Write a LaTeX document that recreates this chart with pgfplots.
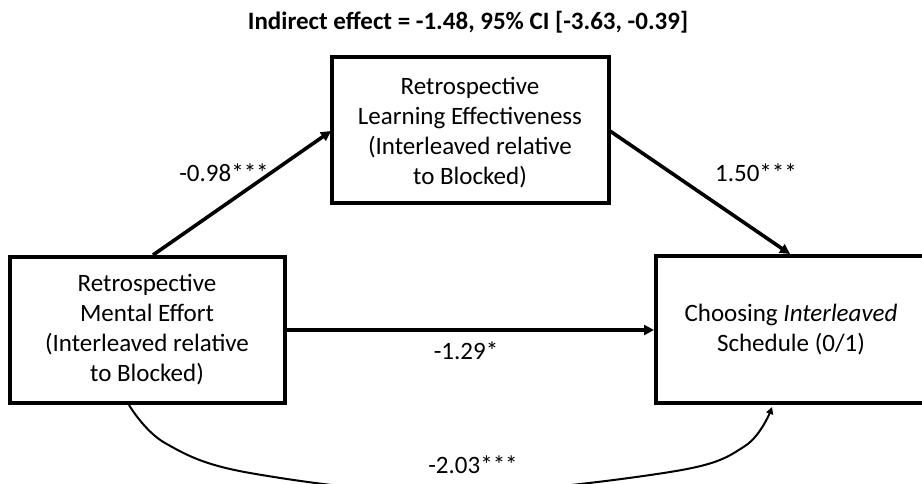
\documentclass[border=0pt]{standalone}
\usepackage{pgfplots}
\pgfplotsset{compat=1.18}
\usepackage{fontspec}
\setmainfont{Carlito}
\usetikzlibrary{arrows.meta}
\tikzset{txt/.style={font=\fontsize{25}{30}\selectfont, align=center, inner sep=0pt}}
\begin{document}
\begin{tikzpicture}
\begin{axis}[
  x=1pt, y=1pt, scale only axis,
  xmin=0, xmax=922, ymin=0, ymax=484,
  y dir=reverse, hide axis, clip=true,
]
% boxes
\addplot[black, line width=4pt, line join=miter, line cap=rect] coordinates {(332,57) (609,57) (609,203) (332,203) (332,57)};
\addplot[black, line width=4pt, line join=miter, line cap=rect] coordinates {(10,257) (285,257) (285,403) (10,403) (10,257)};
\addplot[black, line width=4pt, line join=miter] coordinates {(930,256) (656,256) (656,403) (930,403)};
% straight arrows
\addplot[black, line width=3.6pt, -{Triangle[length=10pt,width=10pt]}] coordinates {(153,255) (331,131)};
\addplot[black, line width=3.6pt, -{Triangle[length=10pt,width=10pt]}] coordinates {(610,131) (790,254)};
\addplot[black, line width=3.6pt, -{Triangle[length=10pt,width=10pt]}] coordinates {(287,330) (654,330)};
% curved arrow
\addplot[black, line width=2pt, smooth, tension=0.6, -{Triangle[length=7pt,width=7pt]}] coordinates {(129,405) (165,443) (250,473) (450,493) (670,472) (745,446) (772,407)};
% texts
\node[font=\fontsize{25}{30}\bfseries\selectfont, inner sep=0pt] at (axis cs:468,22) {Indirect effect = -1.48, 95\% CI [-3.63, -0.39]};
\node[txt] at (axis cs:470,133) {Retrospective\\Learning Effectiveness\\(Interleaved relative\\to Blocked)};
\node[txt] at (axis cs:147,330) {Retrospective\\Mental Effort\\(Interleaved relative\\to Blocked)};
\node[txt] at (axis cs:791,330) {Choosing \textit{Interleaved}\\Schedule (0/1)};
\node[txt] at (axis cs:224,173) {-0.98***};
\node[txt] at (axis cs:756,173) {1.50***};
\node[txt] at (axis cs:466,351) {-1.29*};
\node[txt] at (axis cs:473,465) {-2.03***};
\end{axis}
\pgfresetboundingbox
\useasboundingbox (current axis.south west) rectangle (current axis.north east);
\end{tikzpicture}
\end{document}
